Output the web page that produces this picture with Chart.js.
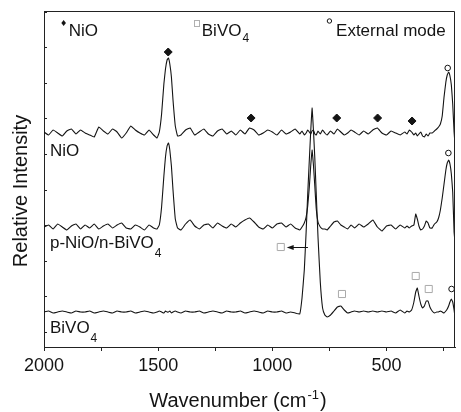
<!DOCTYPE html>
<html>
<head>
<meta charset="utf-8">
<script src="https://cdn.jsdelivr.net/npm/chart.js@4"></script>
<style>
  html, body { margin: 0; padding: 0; background: #fff; }
  #wrap { width: 461px; height: 412px; }
</style>
</head>
<body>
<div id="wrap"><canvas id="raman" width="461" height="412"></canvas></div>
<script>
// Raman shift grid (cm-1), shared by the three spectra
const wavenumber = [
  2000,1980,1960,1940,1920,1900,1880,1860,1840,1820,1800,1780,1760,1740,1720,1700,1680,1660,1640,1620,1600,1580,1560,1540,1520,
  1505,1495,1485,1475,1468,1461,1455,1449,1442,1435,1425,1415,
  1400,1380,1360,1340,1320,1300,1280,1260,1240,1220,1200,1180,1160,1140,1120,1100,1080,1060,1040,1020,1000,980,960,940,920,900,880,
  870,860,852,845,838,832,826,820,814,808,800,790,780,770,
  760,745,730,715,700,685,670,655,640,620,600,580,560,540,520,500,480,460,440,420,
  410,400,390,380,372,365,358,350,342,334,326,318,310,300,290,280,272,264,256,248,240,234,228,222,216,210,204,200
];

// relative intensities (offset stacked, arbitrary units)
const nio = [
  200,197,202,199,196,201,203,198,202,199,197,195,205,201,198,203,200,194,199,206,202,199,197,202,197,
  194,200,218,248,263,272,274,268,255,232,206,196,
  197,202,204,197,200,203,198,196,201,203,198,201,197,202,198,204,202,197,199,202,200,197,202,198,200,203,198,
  201,197,199,202,200,198,201,202,198,197,201,198,202,199,
  197,201,198,203,200,197,199,202,200,197,201,198,202,204,199,197,201,199,197,200,
  198,202,200,197,199,196,198,200,196,195,198,196,199,199,201,203,205,208,216,235,250,257,260,256,247,228,200,188
];
const nioBivo = [
  105,107,103,108,105,102,106,108,103,107,104,108,103,106,108,104,107,109,104,103,107,105,102,107,104,
  103,107,125,156,175,186,189,182,166,142,113,104,
  102,108,112,106,103,107,108,104,109,106,104,108,105,109,112,114,110,105,103,107,104,108,109,105,108,104,102,
  105,109,115,126,145,166,182,167,146,124,110,105,103,103,
  102,106,110,111,107,105,103,107,104,108,105,108,112,105,101,106,107,103,107,104,
  106,104,106,107,118,113,106,102,103,106,111,109,104,104,108,110,114,122,134,148,162,169,172,168,158,140,100,90
];
const bivo4 = [
  20,21,19,20,21,20,19,21,20,20,21,19,20,21,20,19,21,20,20,21,19,20,21,20,19,
  20,21,20,19,21,20,20,21,19,20,21,20,
  19,21,20,20,21,19,20,21,20,19,21,20,20,21,19,20,21,20,19,21,20,20,21,19,20,19,18,
  34,62,100,138,172,200,224,202,174,140,95,50,24,17,
  15,17,21,25,26,22,19,20,21,20,21,20,21,20,21,20,21,19,22,19,
  21,20,22,30,40,44,36,28,24,26,31,31,25,21,19,20,20,21,20,19,21,23,26,30,33,30,22,15
];

// peak markers
const nioMarkX = [1456, 1093, 718, 539, 388];
const nioMarkY = [280, 214, 214, 214, 211];
const bivoMarkX = [963, 695, 372, 315];
const bivoMarkY = [85, 38, 56, 43];
const extMarkX = [232, 229, 215];
const extMarkY = [264, 179, 43];

// arrow from the 826 peak to the BiVO4 marker
const arrowX = [844, 937];
const arrowY = [85, 85];

// axis ticks
const xTicks = [2000, 1750, 1500, 1250, 1000, 750, 500, 250];
const xTickLabels = ['2000', '', '1500', '', '1000', '', '500', ''];
const yTicks = [0, 35.6, 71.2, 106.8, 142.4, 178, 213.6, 249.2, 284.8, 320.4];

const traceNames = ['NiO', 'p-NiO/n-BiVO', 'BiVO'];
const traceSubs = ['', '4', '4'];
const traceLabelX = [1974, 1974, 1974];
const traceLabelY = [176, 84.5, -0.5];

const FONT = "'Liberation Sans', Arial, sans-serif";
const INK = '#141414';

function pts(xs, ys) {
    return xs.map((x, i) => ({x: x, y: ys[i]}));
}

function spectrum(values) {
    return {
        data: pts(wavenumber, values),
        borderColor: INK,
        borderWidth: 1.1,
        pointRadius: 0,
        tension: 0.1,
        fill: false
    };
}

function markers(xs, ys, style, radius, stroke, fillColor) {
    return {
        data: pts(xs, ys),
        showLine: false,
        pointStyle: style,
        pointRadius: radius,
        pointBorderColor: stroke,
        pointBackgroundColor: fillColor,
        pointBorderWidth: 1,
        clip: false
    };
}

// text with an optional sub/superscript part
function richText(ctx, x, y, main, small, size, smallSize, dy) {
    ctx.font = size + 'px ' + FONT;
    ctx.fillText(main, x, y);
    const w = ctx.measureText(main).width;
    if (small) {
        ctx.font = smallSize + 'px ' + FONT;
        ctx.fillText(small, x + w + 1, y + dy);
    }
}

const decorations = {
    id: 'decorations',
    afterDatasetsDraw(chart) {
        const {ctx, chartArea: a, scales: {x, y}} = chart;
        ctx.save();

        // box frame + inward y ticks
        ctx.strokeStyle = '#222';
        ctx.lineWidth = 1;
        ctx.beginPath();
        ctx.moveTo(a.left, a.top + 0.5);
        ctx.lineTo(a.right - 0.5, a.top + 0.5);
        ctx.lineTo(a.right - 0.5, a.bottom);
        y.ticks.forEach(t => {
            const py = Math.round(y.getPixelForValue(t.value)) + 0.5;
            ctx.moveTo(a.left, py);
            ctx.lineTo(a.left + 3, py);
        });
        ctx.stroke();

        // arrow
        const ax0 = x.getPixelForValue(arrowX[0]), ax1 = x.getPixelForValue(arrowX[1]);
        const ay = Math.round(y.getPixelForValue(arrowY[0])) + 0.5;
        ctx.strokeStyle = INK;
        ctx.fillStyle = INK;
        ctx.beginPath();
        ctx.moveTo(ax0, ay);
        ctx.lineTo(ax1 + 5, ay);
        ctx.stroke();
        ctx.beginPath();
        ctx.moveTo(ax1, ay);
        ctx.lineTo(ax1 + 7, ay - 2.5);
        ctx.lineTo(ax1 + 7, ay + 2.5);
        ctx.closePath();
        ctx.fill();

        // trace labels
        ctx.fillStyle = INK;
        ctx.textAlign = 'left';
        ctx.textBaseline = 'alphabetic';
        traceNames.forEach((name, i) => {
            richText(ctx, x.getPixelForValue(traceLabelX[i]), y.getPixelForValue(traceLabelY[i]),
                name, traceSubs[i], 17, 12, 9);
        });

        // key along the top
        const baseY = y.getPixelForValue(296);
        const markY = y.getPixelForValue(309);
        ctx.beginPath();
        const dx = x.getPixelForValue(1914);
        ctx.moveTo(dx, markY - 3); ctx.lineTo(dx + 2.3, markY); ctx.lineTo(dx, markY + 3); ctx.lineTo(dx - 2.3, markY);
        ctx.closePath();
        ctx.fill();
        richText(ctx, x.getPixelForValue(1892), baseY, 'NiO', '', 17, 12, 0);

        ctx.strokeStyle = '#b0b0b0';
        ctx.strokeRect(Math.round(x.getPixelForValue(1330)) - 2.5, Math.round(markY) - 2.5, 5, 6);
        richText(ctx, x.getPixelForValue(1309), baseY, 'BiVO', '4', 17, 12, 6);

        ctx.strokeStyle = INK;
        ctx.beginPath();
        ctx.arc(x.getPixelForValue(750), y.getPixelForValue(311), 2.2, 0, Math.PI * 2);
        ctx.stroke();
        richText(ctx, x.getPixelForValue(721), baseY, 'External mode', '', 17, 12, 0);

        ctx.restore();
    },
    afterDraw(chart) {
        const {ctx, chartArea: a} = chart;
        ctx.save();
        ctx.fillStyle = INK;
        // y title
        ctx.translate(26.5, (a.top + a.bottom) / 2 + 12);
        ctx.rotate(-Math.PI / 2);
        ctx.textAlign = 'center';
        ctx.textBaseline = 'alphabetic';
        ctx.font = '20px ' + FONT;
        ctx.fillText('Relative Intensity', 0, 0);
        ctx.restore();

        // x title with superscript
        ctx.save();
        ctx.fillStyle = INK;
        ctx.textBaseline = 'alphabetic';
        ctx.textAlign = 'left';
        const main = 'Wavenumber (cm', sup = '-1', close = ')';
        ctx.font = '20px ' + FONT;
        const w1 = ctx.measureText(main).width, w3 = ctx.measureText(close).width;
        ctx.font = '13px ' + FONT;
        const w2 = ctx.measureText(sup).width;
        let tx = 238 - (w1 + w2 + w3 + 2) / 2;
        const ty = 406.5;
        ctx.font = '20px ' + FONT;
        ctx.fillText(main, tx, ty);
        tx += w1 + 1;
        ctx.font = '13px ' + FONT;
        ctx.fillText(sup, tx, ty - 8);
        tx += w2 + 1;
        ctx.font = '20px ' + FONT;
        ctx.fillText(close, tx, ty);
        ctx.restore();
    }
};

new Chart(document.getElementById('raman'), {
    type: 'line',
    data: {
        datasets: [
            spectrum(nio),
            spectrum(nioBivo),
            spectrum(bivo4),
            markers(nioMarkX, nioMarkY, 'rectRot', 4, INK, INK),
            markers(bivoMarkX, bivoMarkY, 'rect', 5, '#aaaaaa', 'rgba(255,255,255,0)'),
            markers(extMarkX, extMarkY, 'circle', 2.8, INK, 'rgba(255,255,255,0)')
        ]
    },
    options: {
        responsive: false,
        animation: false,
        events: [],
        layout: {padding: {top: 11, right: 1, left: 0, bottom: 0}},
        plugins: {legend: {display: false}, tooltip: {enabled: false}},
        scales: {
            x: {
                type: 'linear',
                reverse: true,
                min: 200,
                max: 2000,
                afterBuildTicks: s => { s.ticks = xTicks.map(v => ({value: v})); },
                afterFit: s => { s.height = 65; },
                ticks: {
                    autoSkip: false,
                    maxRotation: 0,
                    padding: 4,
                    color: INK,
                    font: {family: FONT, size: 18},
                    callback: (v) => xTickLabels[xTicks.indexOf(v)]
                },
                grid: {drawOnChartArea: false, drawTicks: true, tickLength: 4, color: '#222'},
                border: {color: '#222', width: 1}
            },
            y: {
                type: 'linear',
                min: -15,
                max: 321,
                afterBuildTicks: s => { s.ticks = yTicks.map(v => ({value: v})); },
                afterFit: s => { s.width = 44; },
                ticks: {display: false},
                grid: {drawOnChartArea: false, drawTicks: false},
                border: {color: '#222', width: 1}
            }
        }
    },
    plugins: [decorations]
});
</script>
</body>
</html>
